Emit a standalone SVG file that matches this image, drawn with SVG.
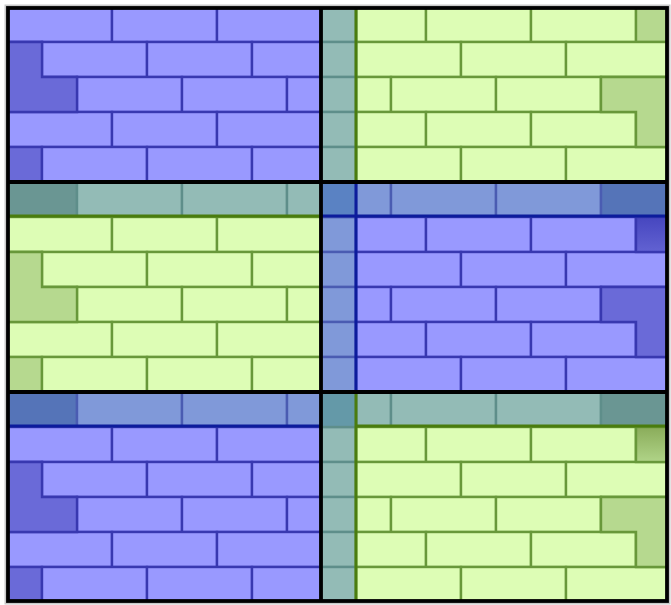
<svg xmlns="http://www.w3.org/2000/svg" xmlns:xlink="http://www.w3.org/1999/xlink" width="671" height="605" viewBox="0 0 671 605">
<style>
.blue{fill:#9999ff;color:#6a6ad8;stroke:#3838b0;stroke-width:2.4}
.green{fill:#ddfdb5;color:#b6d98f;stroke:#68983a;stroke-width:2.4}
.tealS{fill:#93bbb6;color:#6a9693;stroke:#5e8e8a;stroke-width:2.4}
.blueS{fill:#8099d9;color:#5574b8;stroke:#4a5cb2;stroke-width:2.4}
.bL{fill:#6a6ad8;stroke:#3838b0;stroke-width:2.4}
.gL{fill:#b6d98f;stroke:#68983a;stroke-width:2.4}
.black{stroke:#000;stroke-width:3.8;fill:none}
.halo{stroke:#c8c8c8;stroke-width:7;fill:none}
.gline{stroke:#4a7c0e;stroke-width:3;fill:none}
.bline{stroke:#0c1c9c;stroke-width:3;fill:none}
</style>
<defs>
<clipPath id="frame"><rect x="8" y="8" width="659" height="593"/></clipPath>
<linearGradient id="gb" x1="0" y1="0" x2="0" y2="1"><stop offset="0" stop-color="#4646bf"/><stop offset="1" stop-color="#6262d2"/></linearGradient>
<linearGradient id="gg" x1="0" y1="0" x2="0" y2="1"><stop offset="0" stop-color="#8aac5a"/><stop offset="1" stop-color="#b0d488"/></linearGradient>
<g id="L0"><rect x="7" width="105" height="35"/><rect x="112" width="105" height="35"/><rect x="217" width="104" height="35"/></g>
<g id="L1"><rect x="7" width="35" height="35" fill="currentColor"/><rect x="42" width="105" height="35"/><rect x="147" width="105" height="35"/><rect x="252" width="69" height="35"/></g>
<g id="L2"><rect x="7" width="70" height="35" fill="currentColor"/><rect x="77" width="105" height="35"/><rect x="182" width="105" height="35"/><rect x="287" width="34" height="35"/></g>
<g id="R0"><rect x="356" width="70" height="35"/><rect x="426" width="105" height="35"/><rect x="531" width="105" height="35"/><rect x="636" width="36" height="35" fill="currentColor"/></g>
<g id="R1"><rect x="356" width="105" height="35"/><rect x="461" width="105" height="35"/><rect x="566" width="106" height="35"/></g>
<g id="R2"><rect x="356" width="35" height="35"/><rect x="391" width="105" height="35"/><rect x="496" width="105" height="35"/><rect x="601" width="71" height="35" fill="currentColor"/></g>
<rect id="V" x="321" width="35" height="35"/>
<path id="LL" d="M7 0H42V35H77V70H7Z"/>
<path id="RL" d="M601 0H672V70H636V35H601Z"/>
</defs>
<rect class="halo" x="8" y="8" width="659" height="593"/>
<g clip-path="url(#frame)">
<g id="tile-top-left">
<g class="blue"><use xlink:href="#L0" y="7"/><use xlink:href="#L1" y="42"/><use xlink:href="#L2" y="77"/><use xlink:href="#L0" y="112"/><use xlink:href="#L1" y="147"/></g>
<use xlink:href="#LL" y="42" class="bL"/>
</g>
<g id="tile-top-right">
<g class="green"><use xlink:href="#R0" y="7"/><use xlink:href="#R1" y="42"/><use xlink:href="#R2" y="77"/><use xlink:href="#R0" y="112"/><use xlink:href="#R1" y="147"/></g>
<use xlink:href="#RL" y="77" class="gL"/>
<g class="tealS"><use xlink:href="#V" y="7"/><use xlink:href="#V" y="42"/><use xlink:href="#V" y="77"/><use xlink:href="#V" y="112"/><use xlink:href="#V" y="147"/></g>
</g>
<g id="tile-middle-left">
<g class="tealS"><use xlink:href="#L2" y="182"/></g>
<g class="green"><use xlink:href="#L0" y="217"/><use xlink:href="#L1" y="252"/><use xlink:href="#L2" y="287"/><use xlink:href="#L0" y="322"/><use xlink:href="#L1" y="357"/></g>
<use xlink:href="#LL" y="252" class="gL"/>
</g>
<g id="tile-middle-right">
<g class="blueS"><use xlink:href="#R2" y="182"/><use xlink:href="#V" y="217"/><use xlink:href="#V" y="252"/><use xlink:href="#V" y="287"/><use xlink:href="#V" y="322"/><use xlink:href="#V" y="357"/></g>
<rect x="321" y="182" width="35" height="35" fill="#5a82c3" stroke="#4a5cb2" stroke-width="2.4"/>
<g class="blue"><use xlink:href="#R0" y="217"/><use xlink:href="#R1" y="252"/><use xlink:href="#R2" y="287"/><use xlink:href="#R0" y="322"/><use xlink:href="#R1" y="357"/></g>
<rect x="636" y="217" width="36" height="35" fill="url(#gb)" stroke="#3838b0" stroke-width="2.4"/>
<use xlink:href="#RL" y="287" class="bL"/>
</g>
<g id="tile-bottom-left">
<g class="blueS"><use xlink:href="#L2" y="392"/></g>
<g class="blue"><use xlink:href="#L0" y="427"/><use xlink:href="#L1" y="462"/><use xlink:href="#L2" y="497"/><use xlink:href="#L0" y="532"/><use xlink:href="#L1" y="567"/></g>
<use xlink:href="#LL" y="462" class="bL"/>
</g>
<g id="tile-bottom-right">
<g class="tealS"><use xlink:href="#R2" y="392"/><use xlink:href="#V" y="427"/><use xlink:href="#V" y="462"/><use xlink:href="#V" y="497"/><use xlink:href="#V" y="532"/><use xlink:href="#V" y="567"/></g>
<rect x="321" y="392" width="35" height="35" fill="#6499a8" stroke="#5e8e8a" stroke-width="2.4"/>
<g class="green"><use xlink:href="#R0" y="427"/><use xlink:href="#R1" y="462"/><use xlink:href="#R2" y="497"/><use xlink:href="#R0" y="532"/><use xlink:href="#R1" y="567"/></g>
<rect x="636" y="427" width="36" height="35" fill="url(#gg)" stroke="#68983a" stroke-width="2.4"/>
<use xlink:href="#RL" y="497" class="gL"/>
</g>
</g>
<g id="edges">
<path class="gline" d="M356 8V182"/>
<path class="gline" d="M8 216H321"/>
<path class="bline" d="M356 182V392M321 216H667"/>
<path class="bline" d="M8 426H321"/>
<path class="gline" d="M356 392V601M356 426H667"/>
<path class="black" d="M321 8V601M8 182H667M8 392H667"/>
<rect class="black" x="8" y="8" width="659" height="593"/>
</g>
</svg>
